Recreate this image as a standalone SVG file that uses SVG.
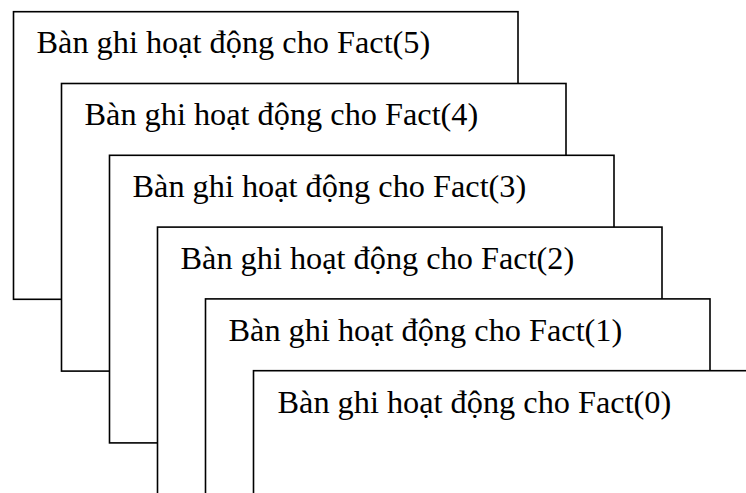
<svg xmlns="http://www.w3.org/2000/svg" width="746" height="493" viewBox="0 0 746 493">
<style>
.box{fill:#fff;stroke:#000;stroke-width:1.6}
.lbl{font-family:"Liberation Serif","Times New Roman",serif;font-size:32.3px;fill:#000}
</style>
<rect width="746" height="493" fill="#fff"/>
<g id="fact5"><rect class="box" x="13.5" y="11.7" width="504.5" height="287.6"/><text class="lbl" x="36.5" y="53.3">Bàn ghi hoạt động cho Fact(5)</text></g>
<g id="fact4"><rect class="box" x="61.5" y="83.5" width="504.5" height="287.6"/><text class="lbl" x="84.5" y="125.1">Bàn ghi hoạt động cho Fact(4)</text></g>
<g id="fact3"><rect class="box" x="109.5" y="155.3" width="504.5" height="287.6"/><text class="lbl" x="132.5" y="196.9">Bàn ghi hoạt động cho Fact(3)</text></g>
<g id="fact2"><rect class="box" x="157.5" y="227.1" width="504.5" height="287.6"/><text class="lbl" x="180.5" y="268.7">Bàn ghi hoạt động cho Fact(2)</text></g>
<g id="fact1"><rect class="box" x="205.5" y="298.9" width="504.5" height="287.6"/><text class="lbl" x="228.5" y="340.5">Bàn ghi hoạt động cho Fact(1)</text></g>
<g id="fact0"><rect class="box" x="253.5" y="370.7" width="504.5" height="287.6"/><text class="lbl" x="277.5" y="413.3">Bàn ghi hoạt động cho Fact(0)</text></g>
<g id="connectors"/>
</svg>
